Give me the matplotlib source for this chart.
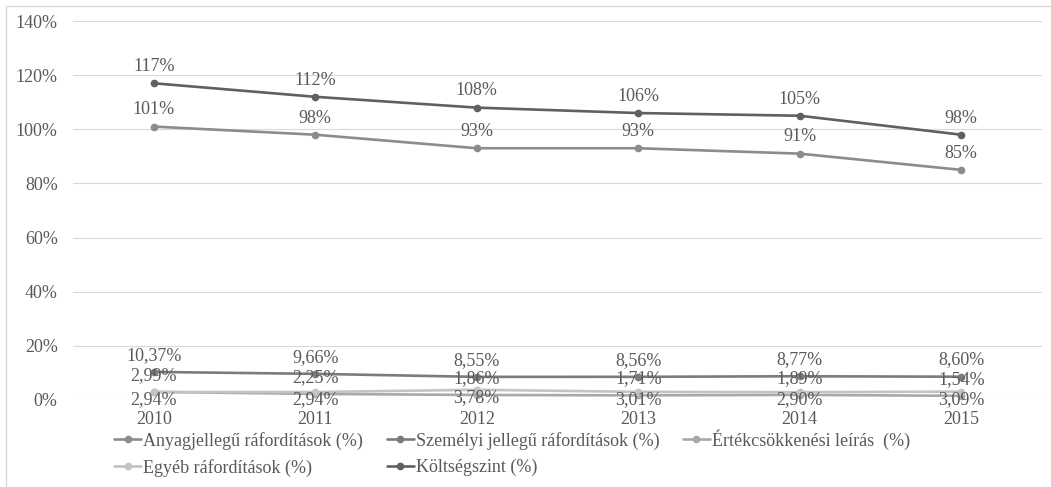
import matplotlib.pyplot as plt
from matplotlib.patches import Rectangle

years = ["2010", "2011", "2012", "2013", "2014", "2015"]

anyag = [101, 98, 93, 93, 91, 85]
szemelyi = [10.37, 9.66, 8.55, 8.56, 8.77, 8.60]
ertekcs = [2.99, 2.25, 1.86, 1.71, 1.89, 1.54]
egyeb = [2.94, 2.94, 3.78, 3.01, 2.90, 3.09]
koltseg = [117, 112, 108, 106, 105, 98]

names = [
    "Anyagjellegű ráfordítások (%)",
    "Személyi jellegű ráfordítások (%)",
    "Értékcsökkenési leírás  (%)",
    "Egyéb ráfordítások (%)",
    "Költségszint (%)",
]

plt.rcParams['font.family'] = ['Liberation Serif', 'DejaVu Serif']
txt = "#595959"
fs = 13

fig = plt.figure(figsize=(10.51, 4.87), dpi=100)
ax = fig.add_axes([73 / 1051, 87 / 487, 969 / 1051, 379 / 487])

x = list(range(len(years)))


def pct_int(v):
    return f"{v:.0f}%"


def pct_dec(v):
    return f"{v:.2f}%".replace(".", ",")


# (values, colour, label formatter, label offset in points)
series = [
    (anyag, "#8c8c8c", pct_int, 12),
    (szemelyi, "#7b7b7b", pct_dec, 12),
    (ertekcs, "#a8a8a8", pct_dec, 12),
    (egyeb, "#c3c3c3", pct_dec, -5.5),
    (koltseg, "#606060", pct_int, 12),
]

handles = []
for (vals, col, fmt, off), name in zip(series, names):
    h, = ax.plot(x, vals, color=col, lw=1.9, marker="o", markersize=4.5,
                 label=name, solid_capstyle="round")
    handles.append(h)
    for xi, v in zip(x, vals):
        ax.annotate(fmt(v), (xi, v), xytext=(0, off), textcoords="offset points",
                    ha="center", va="center", fontsize=fs, color=txt)

ax.set_xlim(-0.5, len(years) - 0.5)
ax.set_ylim(0, 140)
ax.set_yticks(range(0, 141, 20))
ax.set_yticklabels([f"{v}%" for v in range(0, 141, 20)])
ax.set_xticks(x)
ax.set_xticklabels(years)
ax.tick_params(axis="both", length=0, labelsize=fs, colors=txt)
ax.tick_params(axis="y", pad=11)
ax.tick_params(axis="x", pad=8)
ax.grid(axis="y", color="#d9d9d9", lw=0.8)
ax.set_axisbelow(True)
for s in ax.spines.values():
    s.set_visible(False)

# legend rows: A, S, É / E, K (matplotlib fills columns first)
order = [0, 3, 1, 4, 2]
fig.legend([handles[i] for i in order], [names[i] for i in order],
           loc="upper left", bbox_to_anchor=(114 / 1051, 1 - 429 / 487),
           ncol=3, frameon=False, fontsize=fs, labelcolor=txt,
           handlelength=1.5, handletextpad=0.12, columnspacing=1.3,
           labelspacing=0.5, borderpad=0, borderaxespad=0)

# chart area border
fig.patches.append(Rectangle((6 / 1051, -0.1), 2, 1.1 - 6 / 487,
                             transform=fig.transFigure, fill=False,
                             edgecolor="#d9d9d9", lw=1))

fig.savefig("out.png", dpi=100)
